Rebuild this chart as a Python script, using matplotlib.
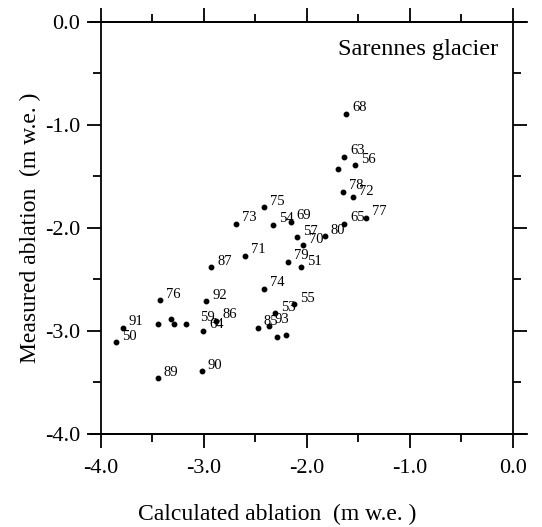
import matplotlib
matplotlib.use('Agg')
import matplotlib.pyplot as plt
from matplotlib.ticker import MultipleLocator

plt.rcParams['font.family'] = ['Liberation Serif', 'DejaVu Serif']

# calculated vs measured summer ablation (m w.e.), labelled by year
calc = [-1.62, -1.64, -1.53, -1.70, -1.65, -1.55, -2.42, -2.33, -2.16, -1.64,
        -1.43, -1.83, -2.10, -2.04, -2.18, -2.06, -2.69, -2.60, -2.93, -2.42,
        -2.98, -2.31, -2.13, -2.48, -2.37, -2.29, -2.20, -2.88, -3.01, -3.02,
        -3.79, -3.85, -3.43, -3.45, -3.32, -3.29, -3.17, -3.45]
meas = [-0.89, -1.31, -1.39, -1.43, -1.65, -1.70, -1.80, -1.97, -1.94, -1.96,
        -1.90, -2.08, -2.09, -2.17, -2.33, -2.38, -1.96, -2.27, -2.38, -2.59,
        -2.71, -2.83, -2.74, -2.97, -2.95, -3.06, -3.04, -2.90, -3.00, -3.39,
        -2.97, -3.11, -2.70, -2.93, -2.88, -2.93, -2.93, -3.46]
years = ['68', '63', '56', '', '78', '72', '75', '54', '69', '65',
         '77', '80', '57', '70', '79', '51', '73', '71', '87', '74',
         '92', '53', '55', '85', '93', '', '', '86', '64', '90',
         '91', '50', '76', '', '', '', '59', '89']
xticks = [-4.0, -3.0, -2.0, -1.0, 0.0]
yticks = [-4.0, -3.0, -2.0, -1.0, 0.0]

# label offsets in pixels (default up-right of the dot)
special_offset = {'59': (14, 6)}

fig = plt.figure(figsize=(5.42, 5.27), dpi=100)
ax = fig.add_axes([0.1863, 0.1765, 0.7602, 0.7818])

ax.plot(calc, meas, 'o', color='black', markersize=3.2, clip_on=False)
for x, y, t in zip(calc, meas, years):
    if t == '':
        continue
    off = special_offset.get(t, (6, 6))
    ax.annotate(t, (x, y), xytext=off, textcoords='offset pixels',
                ha='left', va='center', fontsize=10.5)

ax.set_xlim(-4.0, 0.0)
ax.set_ylim(-4.0, 0.0)
ax.set_xticks(xticks)
ax.set_yticks(yticks)
ax.set_xticklabels(['%.1f' % v for v in xticks])
ax.set_yticklabels(['%.1f' % v for v in yticks])
ax.xaxis.set_minor_locator(MultipleLocator(0.5))
ax.yaxis.set_minor_locator(MultipleLocator(0.5))
ax.tick_params(which='both', direction='out', top=True, right=True,
               width=1.3, labelsize=16)
ax.tick_params(which='major', length=10)
ax.tick_params(which='minor', length=6)
ax.tick_params(axis='x', pad=8)
ax.tick_params(axis='y', pad=5)
for sp in ax.spines.values():
    sp.set_linewidth(1.3)

# horizontal axis lines run a bit past the frame
for yy in (0, 1):
    ax.plot([-0.027, 1.034], [yy, yy], color='black', lw=1.3,
            transform=ax.transAxes, clip_on=False)

ax.text(0.964, 0.932, 'Sarennes glacier', transform=ax.transAxes,
        ha='right', va='center', fontsize=17.5)

ax.set_xlabel('Calculated ablation  (m w.e. )', fontsize=17)
ax.set_ylabel('Measured ablation  (m w.e. )', fontsize=17)
ax.xaxis.set_label_coords(0.427, -0.196)
ax.xaxis.label.set_va('center')
ax.yaxis.set_label_coords(-0.172, 0.5)
ax.yaxis.label.set_va('center')

plt.savefig('out.png', dpi=100)
plt.close()
